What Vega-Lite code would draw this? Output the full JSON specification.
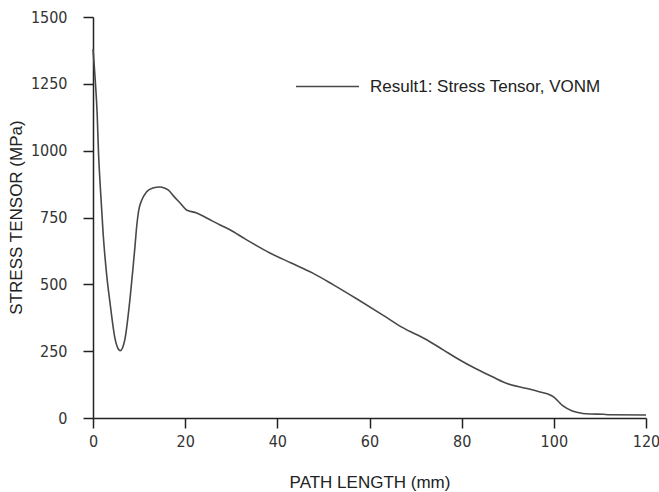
{
  "$schema": "https://vega.github.io/schema/vega-lite/v6.json",
  "autosize": {"type": "none"},
  "width": 553,
  "height": 401,
  "padding": {"left": 93, "top": 17, "right": 13, "bottom": 74},
  "background": "white",
  "data": {
    "values": [
      {"series": "Result1: Stress Tensor, VONM", "path": 0, "stress": 1380},
      {"series": "Result1: Stress Tensor, VONM", "path": 0.5, "stress": 1260},
      {"series": "Result1: Stress Tensor, VONM", "path": 0.9, "stress": 1140},
      {"series": "Result1: Stress Tensor, VONM", "path": 1.2, "stress": 990},
      {"series": "Result1: Stress Tensor, VONM", "path": 1.6, "stress": 860},
      {"series": "Result1: Stress Tensor, VONM", "path": 2.2, "stress": 690},
      {"series": "Result1: Stress Tensor, VONM", "path": 3.0, "stress": 530},
      {"series": "Result1: Stress Tensor, VONM", "path": 3.7, "stress": 430},
      {"series": "Result1: Stress Tensor, VONM", "path": 4.8, "stress": 295},
      {"series": "Result1: Stress Tensor, VONM", "path": 5.5, "stress": 258},
      {"series": "Result1: Stress Tensor, VONM", "path": 5.9, "stress": 252},
      {"series": "Result1: Stress Tensor, VONM", "path": 6.4, "stress": 262},
      {"series": "Result1: Stress Tensor, VONM", "path": 6.9, "stress": 292},
      {"series": "Result1: Stress Tensor, VONM", "path": 8.0, "stress": 441},
      {"series": "Result1: Stress Tensor, VONM", "path": 8.7, "stress": 565},
      {"series": "Result1: Stress Tensor, VONM", "path": 9.1, "stress": 640},
      {"series": "Result1: Stress Tensor, VONM", "path": 9.5, "stress": 720},
      {"series": "Result1: Stress Tensor, VONM", "path": 9.9, "stress": 775},
      {"series": "Result1: Stress Tensor, VONM", "path": 10.5, "stress": 812},
      {"series": "Result1: Stress Tensor, VONM", "path": 11.6, "stress": 845},
      {"series": "Result1: Stress Tensor, VONM", "path": 13.0, "stress": 860},
      {"series": "Result1: Stress Tensor, VONM", "path": 14.5, "stress": 864},
      {"series": "Result1: Stress Tensor, VONM", "path": 15.5, "stress": 860},
      {"series": "Result1: Stress Tensor, VONM", "path": 16.3, "stress": 853},
      {"series": "Result1: Stress Tensor, VONM", "path": 17.5, "stress": 830},
      {"series": "Result1: Stress Tensor, VONM", "path": 18.9, "stress": 804},
      {"series": "Result1: Stress Tensor, VONM", "path": 20.3, "stress": 778},
      {"series": "Result1: Stress Tensor, VONM", "path": 22.5, "stress": 767},
      {"series": "Result1: Stress Tensor, VONM", "path": 25.0, "stress": 745},
      {"series": "Result1: Stress Tensor, VONM", "path": 27.6, "stress": 722},
      {"series": "Result1: Stress Tensor, VONM", "path": 29.6, "stress": 705},
      {"series": "Result1: Stress Tensor, VONM", "path": 33.0, "stress": 670},
      {"series": "Result1: Stress Tensor, VONM", "path": 38.4, "stress": 617},
      {"series": "Result1: Stress Tensor, VONM", "path": 43.0, "stress": 580},
      {"series": "Result1: Stress Tensor, VONM", "path": 47.7, "stress": 542},
      {"series": "Result1: Stress Tensor, VONM", "path": 52.0, "stress": 500},
      {"series": "Result1: Stress Tensor, VONM", "path": 57.3, "stress": 445},
      {"series": "Result1: Stress Tensor, VONM", "path": 62.9, "stress": 385},
      {"series": "Result1: Stress Tensor, VONM", "path": 67.0, "stress": 340},
      {"series": "Result1: Stress Tensor, VONM", "path": 72.5, "stress": 292},
      {"series": "Result1: Stress Tensor, VONM", "path": 76.0, "stress": 255},
      {"series": "Result1: Stress Tensor, VONM", "path": 79.6, "stress": 217},
      {"series": "Result1: Stress Tensor, VONM", "path": 83.0, "stress": 185},
      {"series": "Result1: Stress Tensor, VONM", "path": 86.8, "stress": 153},
      {"series": "Result1: Stress Tensor, VONM", "path": 90.0, "stress": 128},
      {"series": "Result1: Stress Tensor, VONM", "path": 94.2, "stress": 110},
      {"series": "Result1: Stress Tensor, VONM", "path": 97.0, "stress": 97},
      {"series": "Result1: Stress Tensor, VONM", "path": 99.2, "stress": 86},
      {"series": "Result1: Stress Tensor, VONM", "path": 100.0, "stress": 78},
      {"series": "Result1: Stress Tensor, VONM", "path": 102.0, "stress": 45},
      {"series": "Result1: Stress Tensor, VONM", "path": 104.0, "stress": 26},
      {"series": "Result1: Stress Tensor, VONM", "path": 106.3, "stress": 17},
      {"series": "Result1: Stress Tensor, VONM", "path": 108.0, "stress": 15},
      {"series": "Result1: Stress Tensor, VONM", "path": 110.7, "stress": 14},
      {"series": "Result1: Stress Tensor, VONM", "path": 112.0, "stress": 12},
      {"series": "Result1: Stress Tensor, VONM", "path": 120.0, "stress": 11}
    ]
  },
  "mark": {"type": "line", "strokeWidth": 1.6, "interpolate": "monotone"},
  "encoding": {
    "x": {
      "field": "path",
      "type": "quantitative",
      "scale": {"domain": [0, 120], "nice": false, "zero": false},
      "axis": {
        "title": "PATH LENGTH (mm)",
        "values": [0, 20, 40, 60, 80, 100, 120],
        "format": "d",
        "grid": false,
        "domainColor": "#222",
        "domainWidth": 1.5,
        "tickColor": "#222",
        "tickWidth": 1.5,
        "tickSize": 10,
        "labelFont": "DejaVu Sans Condensed",
        "labelFontSize": 16,
        "labelColor": "#333",
        "labelPadding": 5,
        "labelFlush": false,
        "titleFont": "Liberation Sans",
        "titleFontSize": 17,
        "titleFontWeight": "normal",
        "titleColor": "#222",
        "titleBaseline": "middle",
        "titleY": 64
      }
    },
    "y": {
      "field": "stress",
      "type": "quantitative",
      "scale": {"domain": [0, 1500], "nice": false},
      "axis": {
        "title": "STRESS TENSOR (MPa)",
        "values": [0, 250, 500, 750, 1000, 1250, 1500],
        "format": "d",
        "grid": false,
        "domainColor": "#222",
        "domainWidth": 1.5,
        "tickColor": "#222",
        "tickWidth": 1.5,
        "tickSize": 10,
        "labelFont": "DejaVu Sans Condensed",
        "labelFontSize": 16,
        "labelColor": "#333",
        "labelPadding": 16,
        "labelFlush": false,
        "titleFont": "Liberation Sans",
        "titleFontSize": 17,
        "titleFontWeight": "normal",
        "titleColor": "#222",
        "titleAngle": -90,
        "titleBaseline": "middle",
        "titleX": -77,
        "titleY": 200
      }
    },
    "color": {
      "field": "series",
      "type": "nominal",
      "scale": {"range": ["#484848"]},
      "legend": {
        "title": null,
        "orient": "none",
        "legendX": 202,
        "legendY": 37,
        "symbolType": "stroke",
        "symbolSize": 3969,
        "symbolStrokeWidth": 1.3,
        "symbolStrokeColor": "#111",
        "labelFont": "Liberation Sans",
        "labelFontSize": 17,
        "labelLimit": 400,
        "labelColor": "#222",
        "labelOffset": 10
      }
    }
  },
  "config": {"view": {"stroke": null}}
}
